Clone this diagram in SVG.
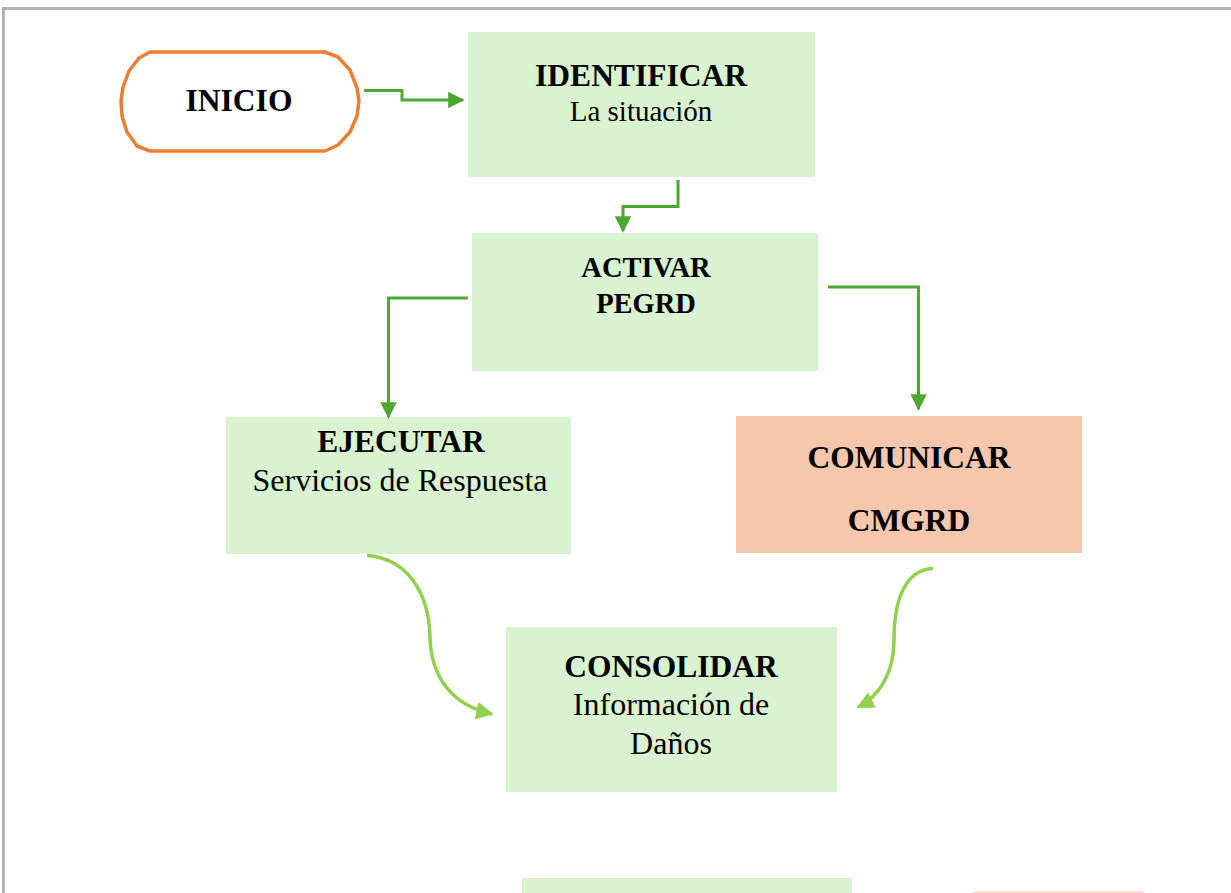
<svg xmlns="http://www.w3.org/2000/svg" width="1231" height="893" viewBox="0 0 1231 893">
<style>
.t{font-family:"Liberation Serif","Times New Roman",serif;fill:#000;text-anchor:middle}
.b{font-weight:bold;font-size:31.5px}
.r{font-size:32px}
.g{fill:#d9f2d0}
.o{fill:#f6c6ad}
.c1{fill:none;stroke:#4ea72e;stroke-width:3}
.c2{fill:none;stroke:#92d050;stroke-width:3.5}
</style>
<defs>
<marker id="a1" viewBox="0 0 10 10" refX="9" refY="5" markerWidth="5.5" markerHeight="5.5" orient="auto" markerUnits="strokeWidth">
<path d="M0,0 L10,5 L0,10 Z" fill="#4ea72e"/>
</marker>
<marker id="a2" viewBox="0 0 10 10" refX="9" refY="5" markerWidth="5" markerHeight="5" orient="auto" markerUnits="strokeWidth">
<path d="M0,0 L10,5 L0,10 Z" fill="#92d050"/>
</marker>
</defs>
<rect width="1231" height="893" fill="#fff"/>
<path d="M3.5,893 V8.5 H1231" fill="none" stroke="#b3b3b3" stroke-width="3"/>

<g id="inicio">
<polygon points="150,52 325,52 338,57 350,70 357,88 359,101 357,116 350,132 338,145 325,151 150,151 137,146 127,132 122,116 121,101 123,87 129,71 139,58" fill="#fff" stroke="#ed7d31" stroke-width="3.5" stroke-linejoin="round"/>
<text class="t b" x="239" y="111">INICIO</text>
</g>

<g id="identificar">
<rect class="g" x="468" y="32" width="347" height="145"/>
<text class="t b" x="641" y="86">IDENTIFICAR</text>
<text class="t" x="641" y="121" style="font-size:29px">La situación</text>
</g>

<g id="activar">
<rect class="g" x="472" y="233" width="346" height="138"/>
<text class="t b" x="646" y="277" style="font-size:28.5px">ACTIVAR</text>
<text class="t b" x="646" y="313" style="font-size:28.5px">PEGRD</text>
</g>

<g id="ejecutar">
<rect class="g" x="226" y="417" width="345" height="137"/>
<text class="t b" x="401" y="452">EJECUTAR</text>
<text class="t r" x="400" y="491">Servicios de Respuesta</text>
</g>

<g id="comunicar">
<rect class="o" x="736" y="416" width="346" height="137"/>
<text class="t b" x="909" y="468">COMUNICAR</text>
<text class="t b" x="909" y="531">CMGRD</text>
</g>

<g id="consolidar">
<rect class="g" x="506" y="627" width="331" height="165"/>
<text class="t b" x="671" y="677">CONSOLIDAR</text>
<text class="t r" x="671" y="715">Información de</text>
<text class="t r" x="671" y="754">Daños</text>
</g>

<g id="bottom-green">
<rect class="g" x="522" y="878" width="330" height="20"/>
</g>
<g id="bottom-pink">
<rect x="972" y="891" width="172" height="10" rx="3" fill="#fbe0d3"/>
</g>

<g id="connectors">
<path class="c1" d="M364,90.5 H402 V100 H463" marker-end="url(#a1)"/>
<path class="c1" d="M678,180 V206.5 H623 V231" marker-end="url(#a1)"/>
<path class="c1" d="M468,298 H388.5 V417" marker-end="url(#a1)"/>
<path class="c1" d="M828,287 H918.5 V409" marker-end="url(#a1)"/>
<path class="c2" d="M367,555.5 C405,558 429,590 430,637 C431,680 455,706 492,714" marker-end="url(#a2)"/>
<path class="c2" d="M933,568.5 C905,570 894,600 894,640 C894,672 880,696 858,707" marker-end="url(#a2)"/>
</g>
</svg>
